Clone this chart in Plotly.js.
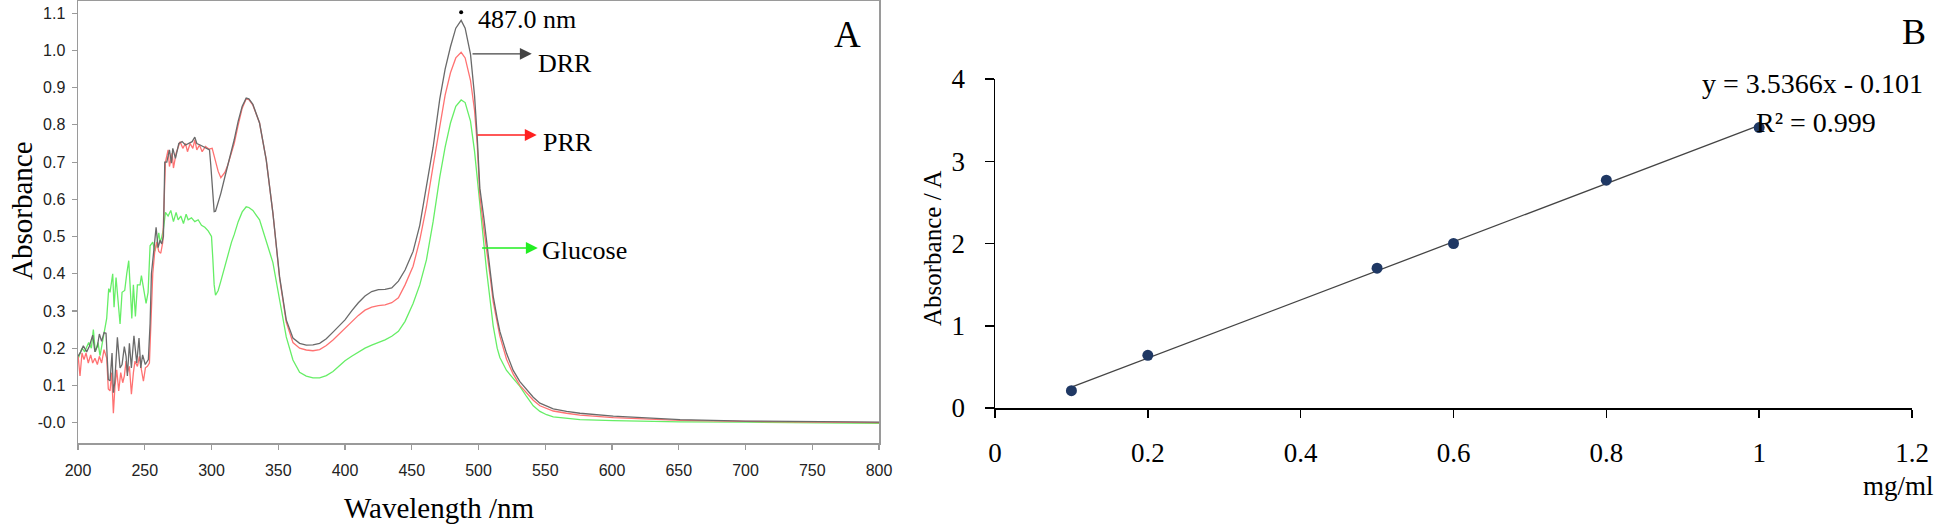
<!DOCTYPE html>
<html>
<head>
<meta charset="utf-8">
<script src="https://cdn.plot.ly/plotly-3.0.1.min.js"></script>
<style>
  body { margin: 0; background: #fff; }
  #chart { width: 1943px; height: 528px; }
</style>
</head>
<body>
<div id="chart"></div>
<script>
// ---- panel A: UV-vis spectra ----
// noisy part below 300 nm, read point by point for each curve
var drrWlLow = [200,202,204,206.5,208.5,211,212.7,214.5,216,217.7,219.5,221,222.7,224,225.5,226.5,227.5,229.5,231.5,233,
  234.7,236,237,238.5,240,241.9,244,245.7,247,248.4,250.4,252.7,254,255,257,258.5,260,261.5,262.7,264,
  265,266.5,268.5,270,271,273,275.5,278,280.5,283,285.5,287.5,289,291.5,294,296.5,298.5,299.5,300.5];
var drrLow = [0.178,0.19,0.206,0.19,0.205,0.235,0.19,0.205,0.238,0.218,0.242,0.24,0.116,0.112,0.187,0.08,0.107,0.229,0.147,0.156,
  0.204,0.178,0.125,0.213,0.147,0.233,0.16,0.227,0.147,0.182,0.156,0.169,0.266,0.40,0.47,0.525,0.47,0.49,0.48,0.50,
  0.70,0.70,0.733,0.697,0.737,0.71,0.75,0.755,0.746,0.75,0.755,0.767,0.75,0.746,0.742,0.737,0.733,0.69,0.634];

var prrWlLow = [200,201.5,203,204.5,206,207.7,209.5,211,212.7,214.5,216,217.7,219.5,221.5,222.7,224,225.2,226.5,227.7,229,
  230.5,232,233.5,234.7,236,237,238.5,240,241.5,242.7,244.5,246,247.5,249,250.5,252,253.5,254.7,256,257.5,
  259,260.5,262,263.5,264.7,265.5,267.5,268.5,270.5,271.5,273.5,275.5,276.5,278.5,280.5,282,284,286,287.5,289,
  291,293,295.5,298,300.5];
var prrLow = [0.182,0.125,0.187,0.169,0.187,0.16,0.182,0.16,0.173,0.156,0.178,0.16,0.196,0.173,0.09,0.085,0.134,0.025,0.098,0.142,
  0.085,0.134,0.107,0.125,0.165,0.134,0.151,0.076,0.134,0.165,0.151,0.178,0.142,0.111,0.147,0.151,0.16,0.284,0.40,0.46,
  0.485,0.46,0.455,0.485,0.65,0.70,0.733,0.688,0.724,0.684,0.724,0.742,0.755,0.737,0.75,0.728,0.75,0.737,0.76,0.733,
  0.746,0.728,0.742,0.735,0.737];

var gluWlLow = [200,203,205,208,210,211.5,213,215,216.5,219,221.5,223,224,226,227,228.5,230,231.5,233,235,
  236.5,238,239.3,240.3,241.5,243,244.5,246.5,247.5,249,251,252.5,254,256,257.5,259,260.5,261.5,262.5,264,
  265.5,267.5,269.5,271.5,273.5,275,277,279,281,282.5,285,287.5,290,292.5,295,297.5,300];
var gluLow = [0.17,0.2,0.19,0.215,0.2,0.25,0.19,0.215,0.18,0.235,0.28,0.36,0.35,0.40,0.31,0.39,0.32,0.265,0.35,0.355,
  0.40,0.435,0.35,0.28,0.37,0.285,0.37,0.37,0.395,0.36,0.32,0.35,0.475,0.485,0.46,0.48,0.51,0.485,0.495,0.52,
  0.565,0.555,0.57,0.54,0.565,0.545,0.555,0.535,0.56,0.545,0.55,0.54,0.545,0.53,0.525,0.515,0.50];

// smooth part, shared wavelength grid
var wlHigh = [301,302,303,305,307,310,312,315,317,320,
  323,326,328,331,336,341,346,351,356,361,
  366,371,376,381,386,391,396,400,405,410,
  415,420,425,430,435,440,445,451,456,461,
  466,471,475,479,483,487,490,494,497,499,
  501,504,506,509,511,514,516,521,526,531,
  536,541,546,551,556,566,576,601,626,651,
  700,750,800];
var drrHigh = [0.60,0.567,0.568,0.59,0.616,0.66,0.688,0.73,0.76,0.81,
  0.85,0.872,0.87,0.855,0.805,0.706,0.563,0.392,0.276,0.227,
  0.213,0.208,0.209,0.213,0.225,0.243,0.262,0.276,0.30,0.322,
  0.34,0.352,0.357,0.358,0.362,0.38,0.41,0.46,0.53,0.63,
  0.74,0.87,0.95,1.01,1.06,1.081,1.06,0.99,0.88,0.77,
  0.63,0.55,0.49,0.40,0.34,0.28,0.245,0.186,0.14,0.11,
  0.088,0.068,0.052,0.044,0.037,0.03,0.025,0.017,0.012,0.008,
  0.004,0.002,0.001];
var prrHigh = [0.73,0.715,0.70,0.675,0.658,0.672,0.69,0.725,0.75,0.80,
  0.845,0.87,0.868,0.853,0.805,0.706,0.563,0.388,0.27,0.215,
  0.20,0.195,0.193,0.196,0.207,0.222,0.24,0.254,0.272,0.288,
  0.302,0.31,0.314,0.316,0.322,0.335,0.37,0.42,0.49,0.58,
  0.69,0.80,0.88,0.94,0.98,0.995,0.98,0.92,0.84,0.75,
  0.61,0.52,0.47,0.385,0.325,0.265,0.232,0.17,0.13,0.10,
  0.08,0.06,0.045,0.037,0.031,0.025,0.02,0.013,0.009,0.006,
  0.003,0.001,0.0];
var gluHigh = [0.44,0.37,0.342,0.355,0.38,0.42,0.45,0.485,0.505,0.54,
  0.566,0.58,0.578,0.57,0.545,0.49,0.43,0.33,0.23,0.168,
  0.135,0.125,0.12,0.12,0.126,0.137,0.152,0.166,0.178,0.19,
  0.2,0.208,0.215,0.222,0.232,0.245,0.272,0.32,0.37,0.437,
  0.54,0.66,0.74,0.805,0.85,0.867,0.86,0.81,0.73,0.66,
  0.58,0.47,0.41,0.32,0.26,0.2,0.175,0.14,0.118,0.097,
  0.07,0.045,0.03,0.021,0.015,0.011,0.008,0.005,0.003,0.002,
  0.001,0.0,-0.002];

var wlTicks = [200,250,300,350,400,450,500,550,600,650,700,750,800];
var absTicks = [0,0.1,0.2,0.3,0.4,0.5,0.6,0.7,0.8,0.9,1.0,1.1];
var absTickText = ['-0.0','0.1','0.2','0.3','0.4','0.5','0.6','0.7','0.8','0.9','1.0','1.1'];
var peakWl = 487.0;

// ---- panel B: calibration ----
var conc = [0.1, 0.2, 0.5, 0.6, 0.8, 1.0];
var absB = [0.21, 0.64, 1.70, 2.00, 2.77, 3.41];
var slope = 3.5366;
var intercept = -0.101;
var r2 = 0.999;

var W = 1943, H = 528;
function px(x) { return x / W; }
function py(y) { return 1 - y / H; }

var serif = 'Liberation Serif, Times New Roman, serif';
var sans = 'Liberation Sans, Arial, sans-serif';

var drr = {
  x: drrWlLow.concat(wlHigh), y: drrLow.concat(drrHigh),
  type: 'scatter', mode: 'lines', name: 'DRR',
  line: {color: '#6a6a6a', width: 1.3}
};
var prr = {
  x: prrWlLow.concat(wlHigh), y: prrLow.concat(prrHigh),
  type: 'scatter', mode: 'lines', name: 'PRR',
  line: {color: '#ff7272', width: 1.3}
};
var glu = {
  x: gluWlLow.concat(wlHigh), y: gluLow.concat(gluHigh),
  type: 'scatter', mode: 'lines', name: 'Glucose',
  line: {color: '#66ee66', width: 1.3}
};
var peakDot = {
  x: [peakWl], y: [Math.max.apply(null, drrHigh) + 0.022],
  type: 'scatter', mode: 'markers',
  marker: {color: '#000', size: 4}, cliponaxis: false
};

var trendX = [conc[0], conc[conc.length - 1]];
var trend = {
  x: trendX, y: trendX.map(function (c) { return slope * c + intercept; }),
  xaxis: 'x2', yaxis: 'y2', type: 'scatter', mode: 'lines',
  line: {color: '#444', width: 1.3}
};
var points = {
  x: conc, y: absB, xaxis: 'x2', yaxis: 'y2',
  type: 'scatter', mode: 'markers',
  marker: {color: '#1f3864', size: 11}, cliponaxis: false
};

function arrow(x0, x1, y, color) {
  return {
    x: x1, y: y, ax: x0, ay: y, xref: 'x', yref: 'y', axref: 'x', ayref: 'y',
    text: '', showarrow: true, arrowhead: 2, arrowsize: 1.7, arrowwidth: 1.4, arrowcolor: color
  };
}
function label(x, y, text, size, xanchor) {
  return {
    x: x, y: y, xref: 'paper', yref: 'paper', text: text, showarrow: false,
    xanchor: xanchor || 'left', yanchor: 'middle', font: {family: serif, size: size, color: '#000'}
  };
}
function vlabel(x, y, text, size) {
  return {
    x: x, y: y, xref: 'paper', yref: 'paper', text: text, showarrow: false, textangle: -90,
    xanchor: 'center', yanchor: 'middle', font: {family: serif, size: size, color: '#000'}
  };
}

var annotations = [
  arrow(494.4, 539.9, 0.991, '#444'),
  arrow(498.1, 543.6, 0.773, '#ff2020'),
  arrow(501.6, 544.4, 0.469, '#22ee22'),
  label(px(476), py(20), peakWl.toFixed(1) + ' nm', 26),
  label(px(536), py(63), 'DRR', 26),
  label(px(541), py(142), 'PRR', 26),
  label(px(540), py(250), 'Glucose', 26),
  label(px(847), py(34), 'A', 37, 'center'),
  label(px(439), py(508), 'Wavelength /nm', 29, 'center'),
  vlabel(px(22), py(211), 'Absorbance', 29),
  label(px(1914), py(32), 'B', 36, 'center'),
  label(px(1700), py(84), 'y = ' + slope.toFixed(4) + 'x - ' + Math.abs(intercept).toFixed(3), 28),
  label(px(1754), py(122), 'R\u00b2 = ' + r2.toFixed(3), 28),
  label(px(1898), py(486), 'mg/ml', 27, 'center'),
  vlabel(px(932), py(248), 'Absorbance / A', 25)
];

var layout = {
  width: W, height: H,
  margin: {l: 0, r: 0, t: 0, b: 0},
  paper_bgcolor: '#fff', plot_bgcolor: '#fff',
  showlegend: false,
  xaxis: {
    domain: [px(78), px(879)], range: [200, 800], tickvals: wlTicks,
    showline: true, mirror: true, linecolor: '#9a9a9a', linewidth: 1.5,
    ticks: 'outside', ticklen: 5, tickcolor: '#9a9a9a', tickwidth: 1.2,
    showgrid: false, zeroline: false, ticklabelstandoff: 7,
    tickfont: {family: sans, size: 16, color: '#222'}
  },
  yaxis: {
    domain: [py(443), py(1)], range: [-0.055, 1.133],
    tickvals: absTicks, ticktext: absTickText,
    showline: true, mirror: true, linecolor: '#9a9a9a', linewidth: 1.5,
    ticks: 'outside', ticklen: 5, tickcolor: '#9a9a9a', tickwidth: 1.2,
    showgrid: false, zeroline: false, ticklabelstandoff: 3,
    tickfont: {family: sans, size: 16, color: '#222'}
  },
  xaxis2: {
    domain: [px(995), px(1912)], range: [0, 1.2], dtick: 0.2, tick0: 0, anchor: 'y2',
    showline: true, linecolor: '#000', linewidth: 1.5,
    ticks: 'outside', ticklen: 8, tickcolor: '#000', tickwidth: 1.5,
    showgrid: false, zeroline: false, ticklabelstandoff: 12,
    tickfont: {family: serif, size: 27, color: '#000'}
  },
  yaxis2: {
    domain: [py(408), py(79)], range: [0, 4], dtick: 1, tick0: 0, anchor: 'x2',
    showline: true, linecolor: '#000', linewidth: 1.5,
    ticks: 'outside', ticklen: 9, tickcolor: '#000', tickwidth: 1.5,
    showgrid: false, zeroline: false, ticklabelstandoff: 14,
    tickfont: {family: serif, size: 27, color: '#000'}
  },
  annotations: annotations
};

Plotly.newPlot('chart', [glu, prr, drr, peakDot, trend, points], layout, {staticPlot: true, displayModeBar: false});
</script>
</body>
</html>
